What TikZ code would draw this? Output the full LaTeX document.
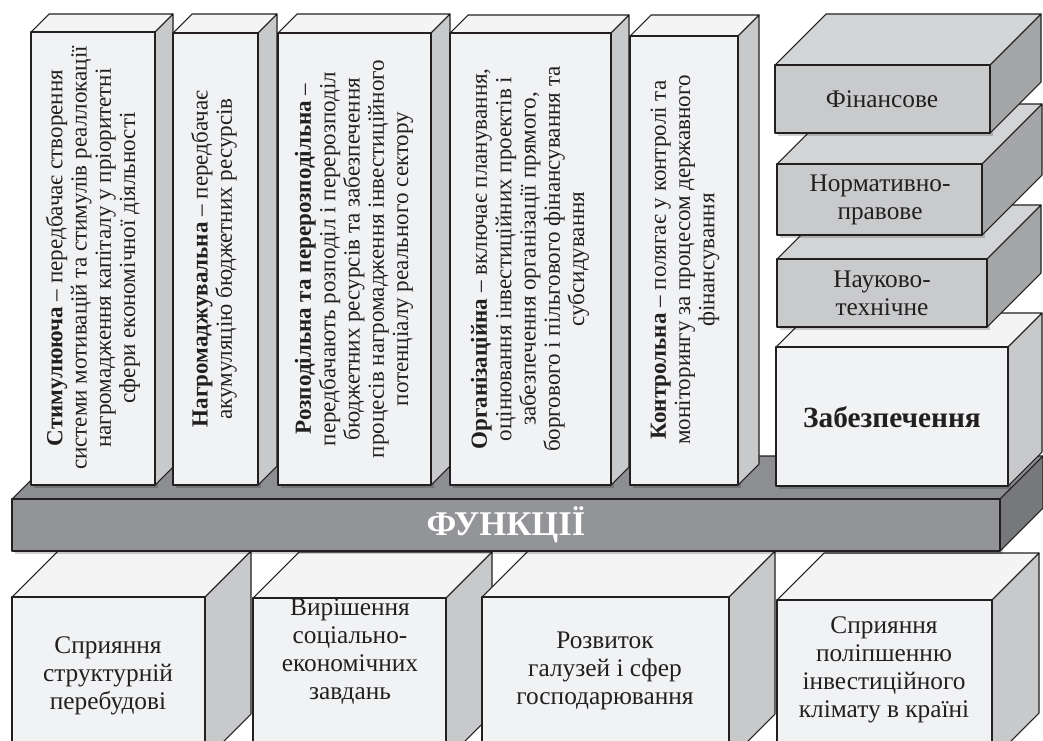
\documentclass[tikz,border=0pt]{standalone}
\RequirePackage{fontspec}
\RequirePackage{tikz}
\setmainfont{Liberation Serif}

\definecolor{ink}{HTML}{231F20}
\definecolor{paperfront}{HTML}{F1F2F4}
\definecolor{papertop}{HTML}{F4F4F5}
\definecolor{paperside}{HTML}{C8C9CB}
\definecolor{steelfront}{HTML}{C9CACC}
\definecolor{steeltop}{HTML}{D3D4D6}
\definecolor{steelside}{HTML}{A5A6A8}
\definecolor{slabfront}{HTML}{939497}
\definecolor{slabtop}{HTML}{8D8E91}
\definecolor{slabside}{HTML}{77787B}

\tikzset{
    x=0.75pt, y=-0.75pt,
    edge/.style={draw=ink, line width=0.8pt, line join=round},
    vtext/.style={rotate=90, align=center, inner sep=0pt, text=ink,
        font=\fontsize{17.3}{18.2}\selectfont},
    btext/.style={align=center, inner sep=0pt, text=ink,
        font=\fontsize{19}{21}\selectfont},
}

\newcommand\brick[8]{%
    \fill[black, opacity=0.18] (#1+3,#2+3) rectangle (#3+3,#4+3);
    \filldraw[edge, fill=#7] (#1,#2) -- (#1+#5,#2-#5) -- (#3+#5,#2-#5) -- (#3,#2) -- cycle;
    \filldraw[edge, fill=#8] (#3,#2) -- (#3+#5,#2-#5) -- (#3+#5,#4-#5) -- (#3,#4) -- cycle;
    \filldraw[edge, fill=#6] (#1,#2) rectangle (#3,#4);
}

\begin{document}
\begin{tikzpicture}
                    \useasboundingbox (0,0) rectangle (1043,740);
                    \clip (0,0) rectangle (1043,740);

                    \brick{12}{597}{205}{760}{46}{paperfront}{papertop}{paperside}
                    \brick{253}{598}{446}{760}{46}{paperfront}{papertop}{paperside}
                    \brick{482}{597}{729}{760}{46}{paperfront}{papertop}{paperside}
                    \brick{777}{600}{992}{760}{47}{paperfront}{papertop}{paperside}

                    \node[btext] (struct) at (108,676) {Сприяння\\структурній\\перебудові};
                    \node[btext] (socec) at (350,652) {Вирішення\\соціально-\\економічних\\завдань};
                    \node[btext] (galuz) at (605,671) {Розвиток\\галузей і сфер\\господарювання};
                    \node[btext] (klimat) at (884,670) {Сприяння\\поліпшенню\\інвестиційного\\клімату в країні};

                    \brick{12}{499}{1000}{551}{43}{slabfront}{slabtop}{slabside}
                    \node[font=\fontsize{26}{30}\selectfont\bfseries, text=white] (funk) at (506,525) {ФУНКЦІЇ};

                    \brick{31}{32}{155}{485}{18}{paperfront}{papertop}{paperside}
                    \brick{173}{33}{258}{485}{19}{paperfront}{papertop}{paperside}
                    \brick{278}{33}{431}{485}{19}{paperfront}{papertop}{paperside}
                    \brick{450}{33}{611}{485}{18}{paperfront}{papertop}{paperside}
                    \brick{630}{36}{738}{485}{21}{paperfront}{papertop}{paperside}

                    \node[vtext] (stim) at (93,258) {\textbf{Стимулююча} – передбачає створення\\системи мотивацій та стимулів реаллокації\\нагромадження капіталу у пріоритетні\\сфери економічної діяльності};
                    \node[vtext] (nagr) at (214,259) {\textbf{Нагромаджувальна} – передбачає\\акумуляцію бюджетних ресурсів};
                    \node[vtext] (rozp) at (354,259) {\textbf{Розподільна та перерозподільна} –\\передбачають розподіл і перерозподіл\\бюджетних ресурсів та забезпечення\\процесів нагромадження інвестиційного\\потенціалу реального сектору};
                    \node[vtext] (org) at (530,259) {\textbf{Організаційна} – включає планування,\\оцінювання інвестиційних проектів і\\забезпечення організації прямого,\\боргового і пільгового фінансування та\\субсидування};
                    \node[vtext] (kontr) at (685,260) {\textbf{Контрольна} – полягає у контролі та\\моніторингу за процесом державного\\фінансування};

                    \brick{776}{347}{1008}{486}{34}{paperfront}{papertop}{paperside}
                    \brick{777}{259}{987}{327}{54}{steelfront}{steeltop}{steelside}
                    \brick{777}{164}{982}{235}{60}{steelfront}{steeltop}{steelside}
                    \brick{775}{65}{990}{133}{51}{steelfront}{steeltop}{steelside}

                    \node[btext, font=\fontsize{22}{26}\selectfont\bfseries] (zabez) at (892,417) {Забезпечення};
                    \node[btext] (nauk) at (882,293) {Науково-\\технічне};
                    \node[btext] (norm) at (880,200) {Нормативно-\\правове};
                    \node[btext] (fin) at (882,99) {Фінансове};
\end{tikzpicture}
\end{document}
